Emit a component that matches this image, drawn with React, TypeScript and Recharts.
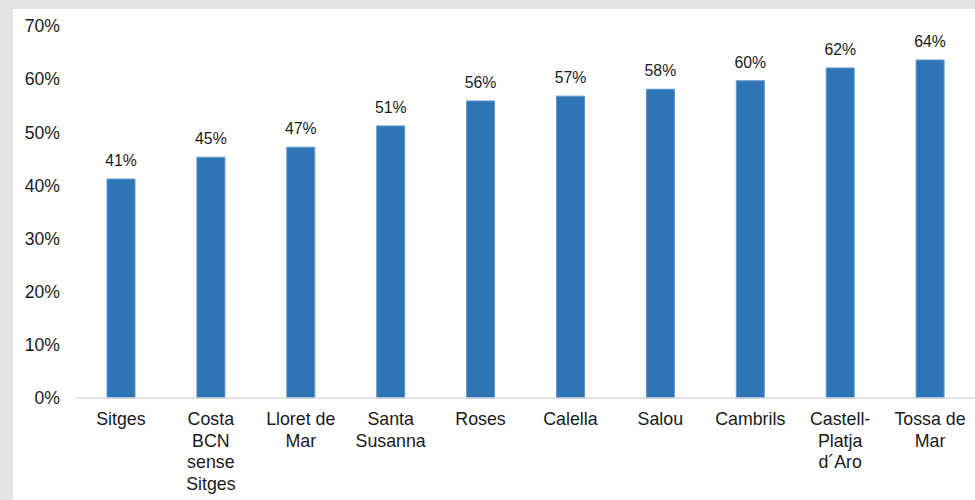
import React from "react";
import { BarChart, Bar, XAxis, YAxis, LabelList } from "recharts";

const categories = [
  "Sitges",
  "Costa\nBCN\nsense\nSitges",
  "Lloret de\nMar",
  "Santa\nSusanna",
  "Roses",
  "Calella",
  "Salou",
  "Cambrils",
  "Castell-\nPlatja\nd´Aro",
  "Tossa de\nMar",
];
const values = [0.412, 0.453, 0.472, 0.512, 0.559, 0.568, 0.581, 0.597, 0.621, 0.636];
const yTicks = [0, 0.1, 0.2, 0.3, 0.4, 0.5, 0.6, 0.7];

const data = categories.map((c, i) => ({ name: c, value: values[i] }));

const FONT = "'Liberation Sans', Arial, sans-serif";

const CatTick = (props: any) => {
  const { x, y, payload } = props;
  const lines = String(payload.value).split("\n");
  return (
    <text x={x} y={y + 19} textAnchor="middle" fill="#1a1a1a" fontSize={17.8} fontFamily={FONT}>
      {lines.map((l, i) => (
        <tspan key={i} x={x} dy={i === 0 ? 0 : 21.5}>
          {l}
        </tspan>
      ))}
    </text>
  );
};

export default function App() {
  return (
    <div style={{ position: "absolute", left: 0, top: 0, width: 975, height: 500, background: "#e4e4e4" }}>
      <div style={{ position: "absolute", left: 13, top: 9, width: 962, height: 491, background: "#ffffff" }} />
      <div style={{ position: "absolute", left: 0, top: 0 }}>
        <BarChart width={975} height={500} data={data} margin={{ top: 26, right: 0, bottom: 0, left: 0 }}>
          <XAxis
            dataKey="name"
            height={102}
            interval={0}
            tickLine={false}
            axisLine={{ stroke: "#d9d9d9", strokeWidth: 1.5 }}
            tick={<CatTick />}
          />
          <YAxis
            width={76}
            domain={[0, 0.7]}
            ticks={yTicks}
            tickFormatter={(v: number) => `${Math.round(v * 100)}%`}
            axisLine={false}
            tickLine={false}
            tickMargin={10}
            tick={{ fill: "#1a1a1a", fontSize: 17.6, fontFamily: FONT }}
          />
          <Bar dataKey="value" fill="#2e75b6" stroke="#5f97cf" strokeWidth={1} barSize={28} isAnimationActive={false}>
            <LabelList
              dataKey="value"
              position="top"
              offset={13}
              formatter={(v: number) => `${Math.round(v * 100)}%`}
              style={{ fill: "#1a1a1a", fontSize: 15.8, fontFamily: FONT }}
            />
          </Bar>
        </BarChart>
      </div>
    </div>
  );
}
